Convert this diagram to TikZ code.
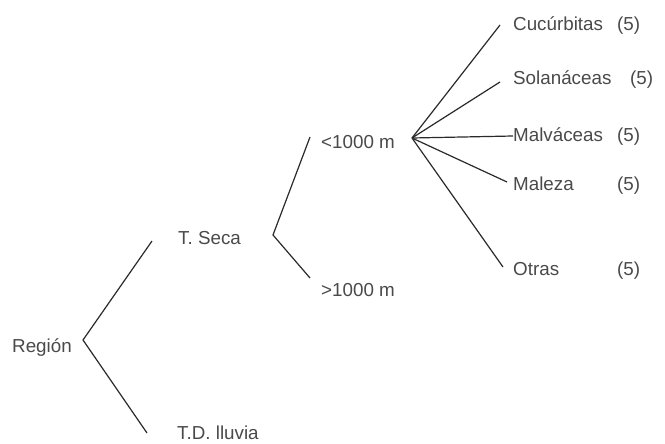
\documentclass[tikz,border=0pt]{standalone}
\usepackage{fontspec}
\setmainfont{Liberation Sans}
\definecolor{txt}{HTML}{4A4A4A}
\definecolor{ln}{HTML}{2A2A2A}
\begin{document}
\begin{tikzpicture}[x=1pt,y=-1pt,
  lbl/.style={anchor=base west,inner sep=0pt,text=txt,font=\fontsize{18.8}{22}\selectfont},
  conn/.style={draw=ln,line width=1.2pt,line join=miter}]
\useasboundingbox[fill=white] (0,0) rectangle (665,444);
% labels
\node[lbl] (reg) at (12,352) {Región};
\node[lbl] (tseca) at (178,244) {T. Seca};
\node[lbl] (tdll) at (177,439) {T.D. lluvia};
\node[lbl] (lt) at (321,149) {<1000 m};
\node[lbl] (gt) at (321,296) {>1000 m};
\node[lbl] (cuc) at (513,31) {Cucúrbitas};
\node[lbl] (sol) at (513,85) {Solanáceas};
\node[lbl] (mal) at (513,142) {Malváceas};
\node[lbl] (male) at (513,190) {Maleza};
\node[lbl] (otr) at (513,275) {Otras};
\node[lbl] (n1) at (617,31) {(5)};
\node[lbl] (n2) at (630,85) {(5)};
\node[lbl] (n3) at (617,142) {(5)};
\node[lbl] (n4) at (617,190) {(5)};
\node[lbl] (n5) at (617,275) {(5)};
% vertices and line ends
\coordinate (vR) at (83,340);
\coordinate (vS) at (273,235);
\coordinate (vF) at (412,138);
\coordinate (eTS) at (152,241);
\coordinate (eTD) at (147,433);
\coordinate (eLT) at (310,137);
\coordinate (eGT) at (310,278);
\coordinate (eC) at (500,25);
\coordinate (eS) at (500,82);
\coordinate (eM) at (513,136);
\coordinate (eMa) at (507,182);
\coordinate (eO) at (503,267);
% connectors
\draw[conn] (eTS) -- (vR) -- (eTD);
\draw[conn] (eLT) -- (vS) -- (eGT);
\draw[conn] (vF) -- (eC);
\draw[conn] (vF) -- (eS);
\draw[conn] (vF) -- (eM);
\draw[conn] (vF) -- (eMa);
\draw[conn] (vF) -- (eO);
\end{tikzpicture}
\end{document}
